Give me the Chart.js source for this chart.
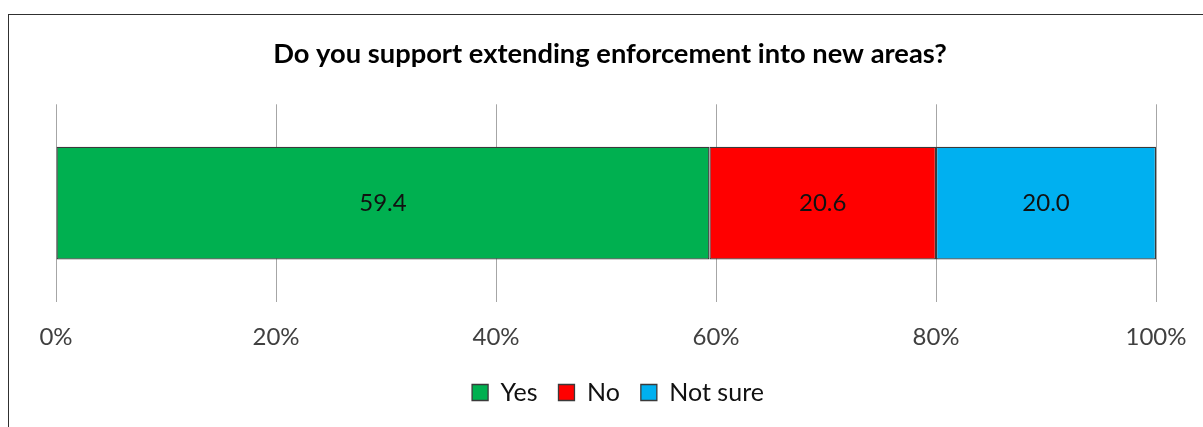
<!DOCTYPE html>
<html lang="en">
<head>
    <meta charset="UTF-8">
    <title>Do you support extending enforcement into new areas?</title>
    <script src="https://cdn.jsdelivr.net/npm/chart.js"></script>
    <style>
        body {
            margin: 0;
            background: #fff;
            overflow: hidden;
        }
        #wrap {
            width: 1203px;
            height: 427px;
        }
    </style>
</head>
<body>
    <div id="wrap"><canvas id="surveyChart"></canvas></div>

    <script>
// Survey answers (percent of respondents)
const categories = ['Enforcement'];
const answers = ['Yes', 'No', 'Not sure'];
const yesValues = [59.4];
const noValues = [20.6];
const notSureValues = [20.0];
const tickValues = [0, 20, 40, 60, 80, 100];

const fontFamily = 'Lato, "Open Sans", sans-serif';

// outer frame + white background, like the spreadsheet chart box
const framePlugin = {
    id: 'frame',
    beforeDraw(chart) {
        const ctx = chart.ctx;
        ctx.save();
        ctx.fillStyle = '#fff';
        ctx.fillRect(0, 0, chart.width, chart.height);
        ctx.strokeStyle = '#303030';
        ctx.lineWidth = 1;
        ctx.strokeRect(8.5, 14.5, chart.width + 20, chart.height + 20);
        ctx.restore();
    }
};

// title and legend sit centred on the whole frame, not on the plot
const centreBoxes = {
    id: 'centreBoxes',
    afterLayout(chart) {
        chart.titleBlock.left += 4;
        chart.titleBlock.right += 4;
        chart.legend.left += 12;
        chart.legend.right += 12;
    }
};

// value labels in the middle of each segment
const valueLabels = {
    id: 'valueLabels',
    afterDatasetsDraw(chart) {
        const ctx = chart.ctx;
        ctx.save();
        ctx.font = '24px ' + fontFamily;
        ctx.fillStyle = '#111';
        ctx.textAlign = 'center';
        ctx.textBaseline = 'middle';
        chart.data.datasets.forEach((ds, i) => {
            chart.getDatasetMeta(i).data.forEach((bar, j) => {
                const p = bar.getProps(['x', 'y', 'base'], true);
                ctx.fillText(ds.data[j].toFixed(1), (p.x + p.base) / 2, p.y);
            });
        });
        ctx.restore();
    }
};

new Chart(document.getElementById('surveyChart'), {
    type: 'bar',
    data: {
        labels: categories,
        datasets: [
            { label: answers[0], data: yesValues, backgroundColor: '#00B050' },
            { label: answers[1], data: noValues, backgroundColor: '#FF0000' },
            { label: answers[2], data: notSureValues, backgroundColor: '#00B0F0' }
        ].map(d => Object.assign(d, {
            borderColor: '#3a3a3a',
            borderWidth: 1.3,
            borderSkipped: false,
            barPercentage: 0.57,
            categoryPercentage: 1
        }))
    },
    options: {
        indexAxis: 'y',
        responsive: true,
        maintainAspectRatio: false,
        animation: false,
        layout: {
            padding: { left: 56, right: 47, top: 0, bottom: 12 }
        },
        scales: {
            x: {
                stacked: true,
                min: 0,
                max: 100,
                afterBuildTicks: axis => {
                    axis.ticks = tickValues.map(v => ({ value: v }));
                },
                afterFit: axis => {
                    // keep the plot width set by the layout padding only
                    axis.height = 57;
                    axis.paddingLeft = 0;
                    axis.paddingRight = 0;
                },
                border: { display: false },
                grid: { color: '#A6A6A6', drawTicks: false, lineWidth: 1 },
                ticks: {
                    padding: 21,
                    color: '#404040',
                    font: { family: fontFamily, size: 24 },
                    callback: v => v + '%'
                }
            },
            y: {
                stacked: true,
                display: false
            }
        },
        plugins: {
            title: {
                display: true,
                text: 'Do you support extending enforcement into new areas?',
                color: '#000',
                font: { family: fontFamily, size: 27.3, weight: 'bold', lineHeight: 1 },
                padding: { top: 41, bottom: 36 }
            },
            legend: {
                position: 'bottom',
                labels: {
                    color: '#111',
                    boxWidth: 16,
                    boxHeight: 16,
                    padding: 21,
                    font: { family: fontFamily, size: 25 }
                }
            },
            tooltip: { enabled: false }
        }
    },
    plugins: [framePlugin, centreBoxes, valueLabels]
});
    </script>
</body>
</html>
